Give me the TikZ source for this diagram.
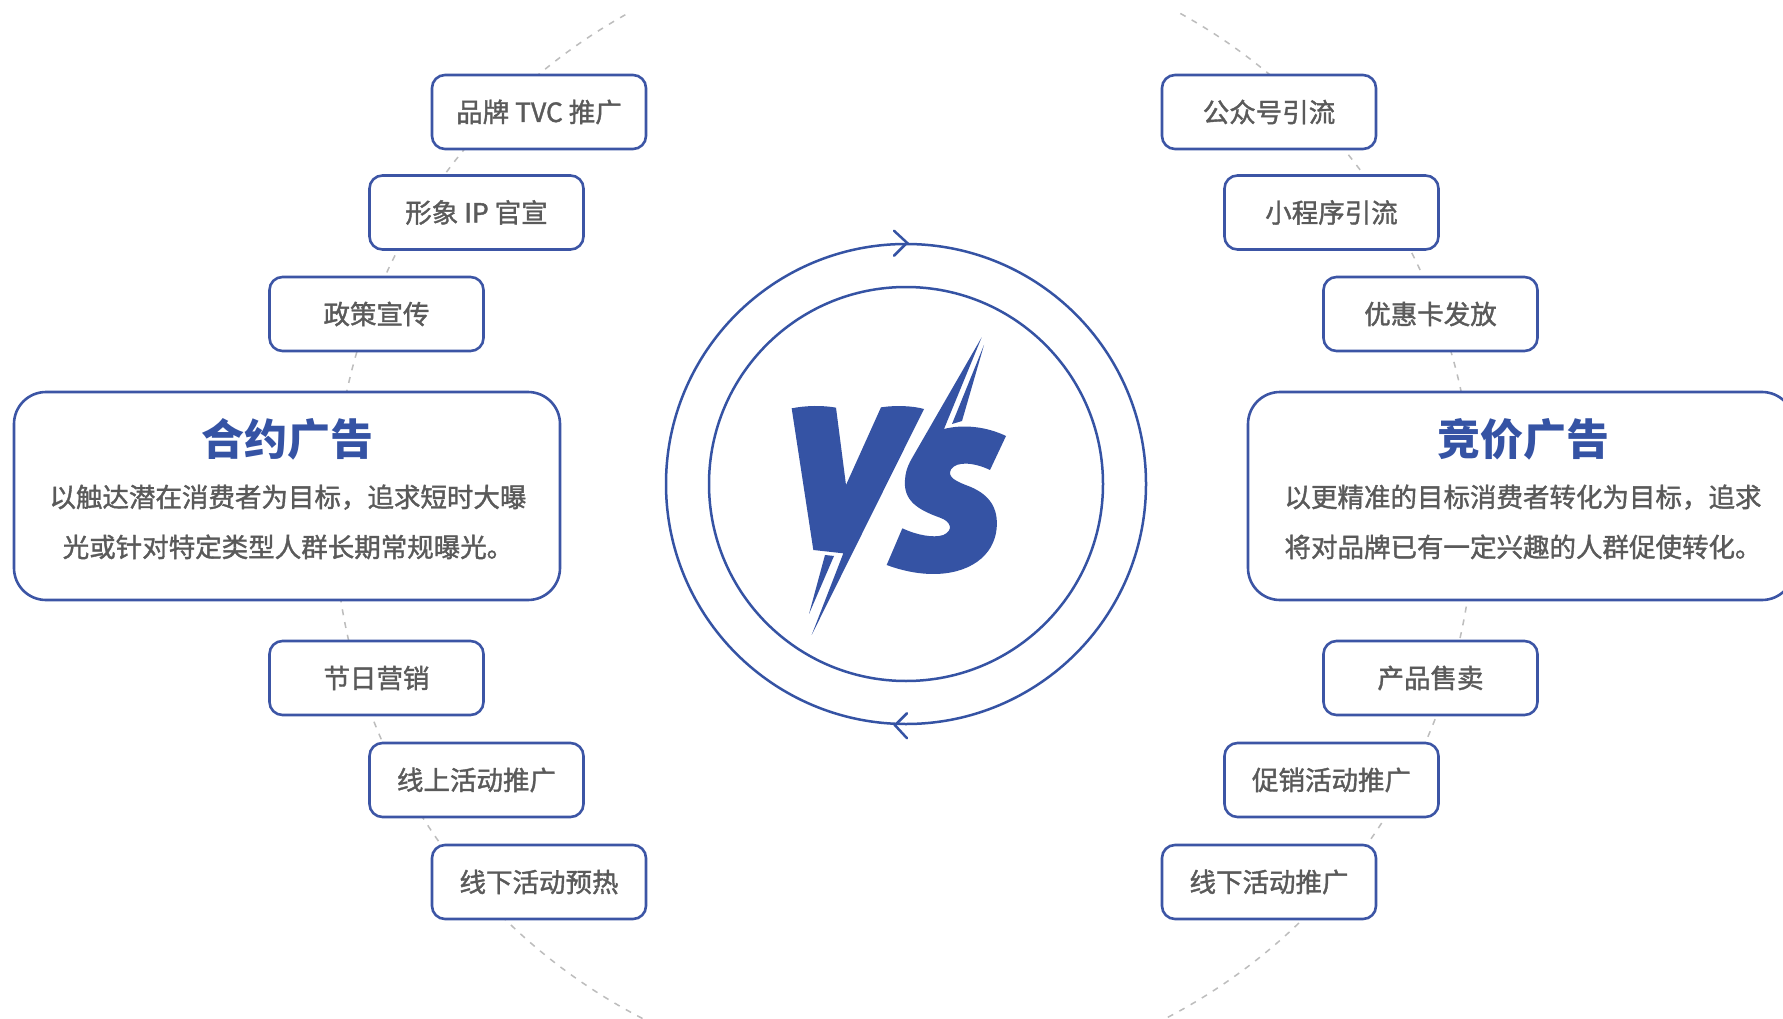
\documentclass[tikz,border=0pt]{standalone}
\usepackage{fontspec}
\usetikzlibrary{calc}
\setmainfont{Noto Sans CJK SC}
\newfontfamily\medfont{Noto Sans CJK SC}[FakeBold=1.4]
\definecolor{vsblue}{HTML}{3553A4}
\definecolor{boxblue}{HTML}{3C55A5}
\definecolor{txtgray}{HTML}{5A5A5A}
\definecolor{dashgray}{HTML}{BDBDBD}
\begin{document}
\begin{tikzpicture}[x=1pt,y=-1pt,
  lbl/.style={draw=boxblue, line width=2.6pt, fill=white, rounded corners=13pt,
    minimum width=214pt, minimum height=74pt, inner sep=0pt,
    font=\medfont\fontsize{26.5}{30}\selectfont, text=txtgray},
  bigbox/.style={draw=boxblue, line width=2.6pt, fill=white, rounded corners=32pt,
    minimum width=546pt, minimum height=208pt, inner sep=0pt},
  ttl/.style={font=\fontsize{43}{50}\selectfont\bfseries, text=vsblue, anchor=base, inner sep=0pt},
  bodytxt/.style={font=\medfont\fontsize{26.5}{30}\selectfont, text=txtgray, anchor=base, inner sep=0pt},
  ring/.style={circle, draw=vsblue, line width=2.5pt, inner sep=0pt},
  chev/.style={draw=vsblue, line width=2.5pt, line cap=round, line join=miter},
  guide/.style={dashgray, line width=1.5pt, dash pattern=on 6pt off 7pt}
]
\useasboundingbox (0,0) rectangle (1783,1019);
\fill[white] (0,0) rectangle (1783,1019);

% dashed guide arcs
\coordinate (gc) at (904,512);
\draw[guide] ($(gc)+(116:570)$) arc[start angle=116, end angle=241, radius=570];
\draw[guide] ($(gc)+(-61:570)$) arc[start angle=-61, end angle=64, radius=570];

% left side
\node[lbl] (l1) at (539,112) {品牌 TVC 推广};
\node[lbl] (l2) at (476.5,212.5) {形象 IP 官宣};
\node[lbl] (l3) at (376.5,314) {政策宣传};
\node[bigbox] (L) at (287,496) {};
\node[ttl] (Lt) at (287,455) {合约广告};
\node[bodytxt] (Lb1) at (288,507) {以触达潜在消费者为目标，追求短时大曝};
\node[bodytxt] (Lb2) at (288,557) {光或针对特定类型人群长期常规曝光。};
\node[lbl] (l4) at (376.5,678) {节日营销};
\node[lbl] (l5) at (476.5,780) {线上活动推广};
\node[lbl] (l6) at (539,882) {线下活动预热};

% right side
\node[lbl] (r1) at (1269,112) {公众号引流};
\node[lbl] (r2) at (1331.5,212.5) {小程序引流};
\node[lbl] (r3) at (1430.5,314) {优惠卡发放};
\node[bigbox] (R) at (1521,496) {};
\node[ttl] (Rt) at (1523,455) {竞价广告};
\node[bodytxt] (Rb1) at (1523,507) {以更精准的目标消费者转化为目标，追求};
\node[bodytxt] (Rb2) at (1523,557) {将对品牌已有一定兴趣的人群促使转化。};
\node[lbl] (r4) at (1430.5,678) {产品售卖};
\node[lbl] (r5) at (1331.5,780) {促销活动推广};
\node[lbl] (r6) at (1269,882) {线下活动推广};

% VS rings
\node[ring, minimum size=480pt] (outer) at (906,484) {};
\node[ring, minimum size=394pt] (inner) at (906,484) {};
\draw[chev] ($(outer.north)+(-12,-12)$) -- ($(outer.north)+(1,0)$) -- ($(outer.north)+(-12,13)$);
\draw[chev] ($(outer.south)+(1,-12)$) -- ($(outer.south)+(-11,0)$) -- ($(outer.south)+(1,13)$);

% VS logo
\begin{scope}[shift={(650,220)}, scale=1/3]
  \fill[vsblue] (425,565) .. controls (470,556) and (520,556) .. (558,563)
    -- (588,795) -- (693,562) .. controls (740,555) and (790,558) .. (822,567)
    -- (485,1245) -- (580,1000) -- (490,990) -- cycle;
  \fill[vsblue] (525,1005) -- (552,1008) -- (477,1182) -- cycle;
  \fill[vsblue] (995,352) -- (882,627)
    .. controls (940,612) and (1010,620) .. (1068,648)
    -- (1020,750)
    .. controls (975,728) and (920,722) .. (903,748)
    .. controls (890,772) and (920,785) .. (960,800)
    .. controls (1020,825) and (1045,865) .. (1040,925)
    .. controls (1032,1010) and (955,1062) .. (850,1062)
    .. controls (800,1062) and (750,1050) .. (710,1035)
    -- (757,925)
    .. controls (800,945) and (850,955) .. (880,945)
    .. controls (910,932) and (905,905) .. (870,893)
    .. controls (800,868) and (760,840) .. (765,780)
    .. controls (767,745) and (780,725) .. (795,699)
    -- cycle;
  \fill[vsblue] (1002,375) -- (936,603) -- (906,612) -- cycle;
\end{scope}
\end{tikzpicture}
\end{document}
